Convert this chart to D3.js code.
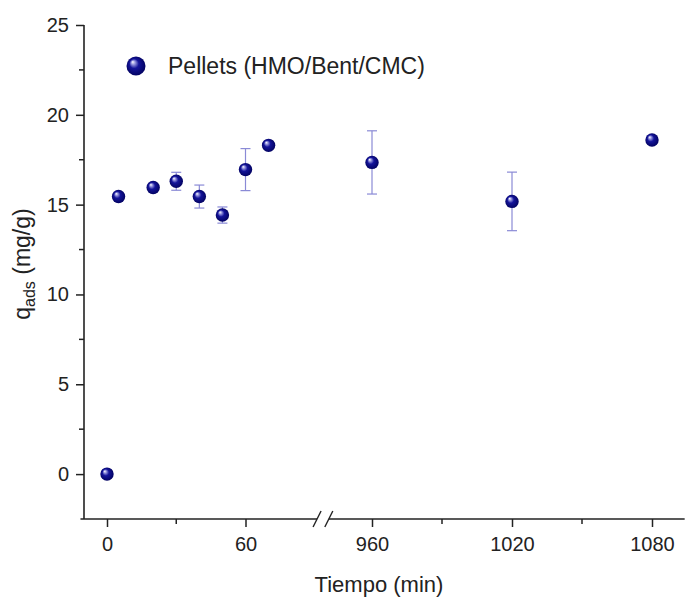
<!DOCTYPE html>
<html lang="en">
<head>
<meta charset="UTF-8">
<title>qads vs Tiempo</title>
<script src="https://d3js.org/d3.v7.min.js"></script>
<style>
  body { margin: 0; background: #fff; font-family: 'Liberation Sans', Arial, sans-serif; }
  .tick text { font-family: 'Liberation Sans', Arial, sans-serif; font-size: 20px; fill: #222; }
  .tick line { stroke: #222; stroke-width: 1.5; }
</style>
</head>
<body>
<svg id="chart" width="686" height="597"></svg>
<script>
// data
var timesShort = [0, 5, 20, 30, 40, 50, 60, 70];
var qShort     = [0, 15.45, 15.95, 16.3, 15.45, 14.42, 16.95, 18.3];
var errShort   = [0, 0.2, 0.1, 0.5, 0.64, 0.45, 1.17, 0];

var timesLong = [960, 1020, 1080];
var qLong     = [17.35, 15.18, 18.6];
var errLong   = [1.76, 1.63, 0];

var yTicks = [0, 5, 10, 15, 20, 25];
var yMinor = [2.5, 7.5, 12.5, 17.5, 22.5];
var xTicksShort = [0, 60];
var xMinorShort = [30];
var xTicksLong = [960, 1020, 1080];
var xMinorLong = [990, 1050];
var seriesName = "Pellets (HMO/Bent/CMC)";

var svg = d3.select("#chart");

var y = d3.scaleLinear().domain([-2.5, 25]).range([519, 25]);
var xL = d3.scaleLinear().domain([0, 60]).range([107, 245.5]);
var xR = d3.scaleLinear().domain([960, 1080]).range([372, 652]);

var axisY = 84, axisX = y(-2.5);
var ink = "#222";

// gradient for the spheres
var grad = svg.append("defs").append("radialGradient").attr("id", "ball")
  .attr("cx", "50%").attr("cy", "50%").attr("r", "55%")
  .attr("fx", "32%").attr("fy", "28%");
grad.append("stop").attr("offset", "0%").attr("stop-color", "#ffffff");
grad.append("stop").attr("offset", "18%").attr("stop-color", "#9a9ae0");
grad.append("stop").attr("offset", "45%").attr("stop-color", "#14149a");
grad.append("stop").attr("offset", "100%").attr("stop-color", "#00005a");

function minorTicks(data, fx, fy, horiz) {
  svg.append("g").selectAll("line").data(data).enter().append("line")
    .attr("x1", function (d) { return horiz ? fx(d) : axisY - 5; })
    .attr("x2", function (d) { return horiz ? fx(d) : axisY; })
    .attr("y1", function (d) { return horiz ? axisX : fy(d); })
    .attr("y2", function (d) { return horiz ? axisX + 5 : fy(d); })
    .attr("stroke", ink).attr("stroke-width", 1.5);
}

// y axis
var yAxis = svg.append("g").attr("transform", "translate(" + axisY + ",0)")
  .call(d3.axisLeft(y).tickValues(yTicks).tickSize(8).tickPadding(7));
yAxis.select(".domain").remove();
minorTicks(yMinor, null, y, false);
svg.append("line").attr("x1", axisY).attr("x2", axisY)
  .attr("y1", y(25)).attr("y2", axisX)
  .attr("stroke", ink).attr("stroke-width", 1.6);

// x axis, two segments with a break
var gL = svg.append("g").attr("transform", "translate(0," + axisX + ")")
  .call(d3.axisBottom(xL).tickValues(xTicksShort).tickFormat(d3.format("d")).tickSize(8).tickPadding(10));
gL.select(".domain").remove();
var gR = svg.append("g").attr("transform", "translate(0," + axisX + ")")
  .call(d3.axisBottom(xR).tickValues(xTicksLong).tickFormat(d3.format("d")).tickSize(8).tickPadding(10));
gR.select(".domain").remove();
minorTicks(xMinorShort, xL, null, true);
minorTicks(xMinorLong, xR, null, true);

var leftEnd = xL(91), rightStart = xR(941.5);
svg.append("line").attr("x1", xL(-11.5)).attr("x2", leftEnd)
  .attr("y1", axisX).attr("y2", axisX).attr("stroke", ink).attr("stroke-width", 1.6);
svg.append("line").attr("x1", rightStart).attr("x2", xR(1094))
  .attr("y1", axisX).attr("y2", axisX).attr("stroke", ink).attr("stroke-width", 1.6);
[leftEnd, rightStart].forEach(function (bx) {
  svg.append("line").attr("x1", bx - 4).attr("x2", bx + 4)
    .attr("y1", axisX + 8).attr("y2", axisX - 8)
    .attr("stroke", ink).attr("stroke-width", 1.4);
});

// error bars + points
var pts = timesShort.map(function (t, i) { return { px: xL(t), q: qShort[i], e: errShort[i] }; })
  .concat(timesLong.map(function (t, i) { return { px: xR(t), q: qLong[i], e: errLong[i] }; }));

var eb = svg.append("g").attr("stroke", "#8a8ad6").attr("stroke-width", 1.2);
pts.filter(function (d) { return d.e > 0; }).forEach(function (d) {
  eb.append("line").attr("x1", d.px).attr("x2", d.px).attr("y1", y(d.q + d.e)).attr("y2", y(d.q - d.e));
  eb.append("line").attr("x1", d.px - 5).attr("x2", d.px + 5).attr("y1", y(d.q + d.e)).attr("y2", y(d.q + d.e));
  eb.append("line").attr("x1", d.px - 5).attr("x2", d.px + 5).attr("y1", y(d.q - d.e)).attr("y2", y(d.q - d.e));
});

svg.append("g").selectAll("circle").data(pts).enter().append("circle")
  .attr("cx", function (d) { return d.px; })
  .attr("cy", function (d) { return y(d.q); })
  .attr("r", 6.7)
  .attr("fill", "url(#ball)");

// legend
svg.append("circle").attr("cx", 136).attr("cy", 66).attr("r", 9.5).attr("fill", "url(#ball)");
svg.append("text").attr("x", 168).attr("y", 74).attr("font-size", 23).attr("fill", ink)
  .text(seriesName);

// axis titles
svg.append("text").attr("x", 379).attr("y", 592).attr("text-anchor", "middle")
  .attr("font-size", 22).attr("fill", ink).text("Tiempo (min)");
var yl = svg.append("text").attr("transform", "translate(30,264) rotate(-90)")
  .attr("text-anchor", "middle").attr("font-size", 23).attr("fill", ink);
yl.append("tspan").text("q");
yl.append("tspan").attr("font-size", 16).attr("dy", 5).text("ads");
yl.append("tspan").attr("dy", -5).text(" (mg/g)");
</script>
</body>
</html>
